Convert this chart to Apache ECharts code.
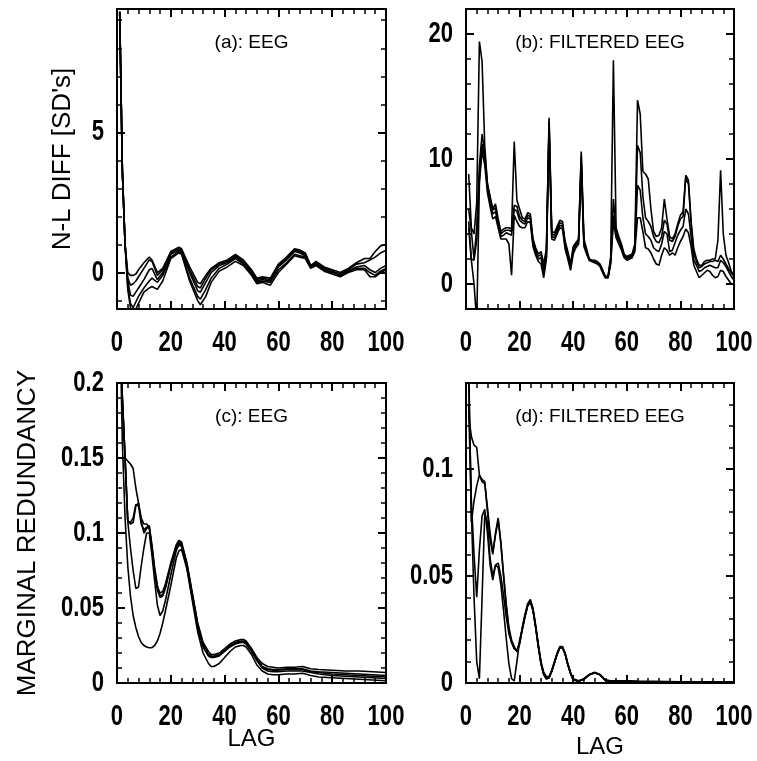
<!DOCTYPE html>
<html><head><meta charset="utf-8">
<script src="https://cdn.jsdelivr.net/npm/echarts@6/dist/echarts.min.js"></script>
<style>html,body{margin:0;padding:0;background:#fff}#c{width:757px;height:761px}</style>
</head><body><div id="c"></div>
<script>
// ---------- tick labels ----------
const xTickLabels = [0, 20, 40, 60, 80, 100];
const xMinorTicks = [4, 8, 12, 16, 24, 28, 32, 36, 44, 48, 52, 56, 64, 68, 72, 76, 84, 88, 92, 96];
const yMajorA = [0, 5];
const yMinorA = [-1, 1, 2, 3, 4, 6, 7, 8, 9];
const yMajorB = [0, 10, 20];
const yMinorB = [2, 4, 6, 8, 12, 14, 16, 18];
const yMajorC = [0, 0.05, 0.1, 0.15, 0.2];
const yMinorC = [0.01, 0.02, 0.03, 0.04, 0.06, 0.07, 0.08, 0.09, 0.11, 0.12, 0.13, 0.14, 0.16, 0.17, 0.18, 0.19];
const yMajorD = [0, 0.05, 0.1];
const yMinorD = [0.01, 0.02, 0.03, 0.04, 0.06, 0.07, 0.08, 0.09, 0.11, 0.12, 0.13];

// ---------- panel (a): EEG, N-L DIFF ----------
const xa = [1,2,3,4,5,6,7,8,10,12,13,15,17,20,23,24,27,30,31,33,35,38,41,44,47,50,52,54,57,60,63,66,68,70,72,74,77,80,83,86,89,92,94,96,98,100];
const a1 = [9.3,3.6,1.0,0.0,-0.1,-0.1,-0.05,0.1,0.35,0.55,0.45,0.0,0.15,0.75,0.9,0.85,0.2,-0.35,-0.4,-0.1,0.15,0.35,0.45,0.65,0.45,0.1,-0.2,-0.15,-0.2,0.3,0.55,0.85,0.8,0.7,0.25,0.4,0.2,0.1,0.0,0.15,0.35,0.5,0.5,0.75,0.95,1.0];
const a2 = [9.3,3.6,1.0,-0.2,-0.45,-0.4,-0.3,-0.15,0.15,0.45,0.4,-0.1,0.1,0.7,0.85,0.8,0.1,-0.5,-0.55,-0.2,0.1,0.3,0.4,0.6,0.4,0.05,-0.25,-0.2,-0.25,0.25,0.5,0.8,0.75,0.65,0.25,0.35,0.15,0.05,-0.05,0.1,0.3,0.35,0.45,0.55,0.7,0.8];
const a3 = [9.3,3.6,1.0,-0.3,-0.8,-0.85,-0.7,-0.55,-0.25,0.1,0.15,-0.25,0.0,0.65,0.8,0.75,0.0,-0.65,-0.7,-0.35,0.0,0.25,0.35,0.55,0.35,0.0,-0.3,-0.25,-0.3,0.2,0.45,0.75,0.7,0.6,0.2,0.3,0.1,0.0,-0.1,0.05,0.2,0.25,0.1,0.0,0.15,0.25];
const a4 = [9.3,3.6,1.0,-0.5,-1.1,-1.25,-1.05,-0.85,-0.55,-0.3,-0.2,-0.35,-0.1,0.55,0.75,0.7,-0.2,-0.85,-0.95,-0.6,-0.2,0.15,0.3,0.5,0.3,-0.05,-0.35,-0.3,-0.35,0.1,0.35,0.65,0.6,0.55,0.2,0.3,0.1,0.0,-0.1,0.05,0.15,0.15,0.0,-0.1,0.05,0.15];
const a5 = [9.3,3.6,1.0,-0.6,-1.25,-1.35,-1.3,-1.1,-0.7,-0.55,-0.5,-0.6,-0.3,0.5,0.7,0.65,-0.3,-1.0,-1.15,-0.85,-0.35,0.05,0.2,0.4,0.25,-0.1,-0.4,-0.35,-0.45,0.0,0.3,0.6,0.55,0.5,0.15,0.25,0.05,-0.05,-0.15,0.0,0.1,0.1,-0.15,-0.15,0.0,0.1];

// ---------- panel (b): FILTERED EEG, N-L DIFF ----------
const xb = [1,2,3,4,5,6,7,8,9,10,11,12,13,14,15,16,17,18,19,20,21,22,23,24,25,26,27,28,29,30,31,32,33,34,35,36,37,38,39,40,41,42,43,44,45,46,47,48,49,50,51,52,53,54,55,56,57,58,59,60,61,62,63,64,65,66,67,68,69,70,71,72,73,74,75,76,77,78,79,80,81,82,83,84,85,86,87,88,89,90,91,92,93,94,95,96,97,98,99,100];
const b1 = [8.8,4.5,4.0,6.5,19.4,17.8,11.0,8.0,7.0,6.0,
  6.4,5.2,4.2,4.4,4.5,4.5,4.4,11.4,6.7,6.0,
  5.3,5.2,5.7,5.6,3.6,2.9,2.4,2.6,1.6,2.8,
  13.3,4.2,4.1,4.6,5.1,5.0,3.4,2.6,1.6,3.0,
  3.3,3.6,10.6,3.6,2.8,2.0,1.9,1.9,1.8,1.6,
  1.1,0.6,0.6,2.2,17.9,4.5,3.8,3.2,2.4,2.2,
  2.3,2.4,3.2,14.7,13.6,9.0,8.8,8.4,6.0,4.2,
  3.8,3.9,4.5,6.8,5.2,3.8,3.6,4.0,4.8,5.5,
  5.8,8.7,8.3,5.0,2.8,2.0,1.5,1.5,1.8,1.9,
  1.9,2.0,2.0,3.5,9.1,4.0,2.3,1.7,1.0,0.8];
const b2 = [6.0,4.2,2.0,4.5,9.5,12.0,10.5,8.0,6.8,5.9,
  6.1,5.0,4.0,4.2,4.3,4.3,4.2,6.3,6.2,5.4,
  5.1,5.0,5.5,5.4,3.4,2.7,2.2,2.4,1.2,2.5,
  13.0,4.0,3.9,4.4,4.9,4.8,3.2,2.4,1.4,2.8,
  3.2,3.5,10.2,3.4,2.6,2.0,1.9,1.8,1.7,1.5,
  1.1,0.6,0.6,2.0,6.8,4.2,3.6,3.0,2.3,2.1,
  2.2,2.3,3.0,11.1,10.5,7.0,5.3,5.0,4.6,3.8,
  3.4,3.3,3.8,5.1,4.8,3.5,3.4,3.8,4.6,5.2,
  5.4,8.5,8.0,4.8,2.4,1.8,1.3,1.4,1.6,1.7,
  1.8,1.8,1.9,1.8,2.3,2.0,1.6,1.2,0.9,0.6];
const b3 = [5.0,2.0,1.9,3.5,8.5,11.2,10.0,7.6,6.5,5.6,
  5.8,4.8,3.8,3.9,4.1,4.0,3.9,6.0,5.8,5.1,
  4.9,4.8,5.3,5.2,3.2,2.5,2.0,2.1,0.9,2.2,
  12.6,3.8,3.7,4.2,4.7,4.6,3.0,2.2,1.3,2.6,
  3.1,3.4,9.8,3.2,2.5,1.9,1.8,1.8,1.7,1.5,
  1.0,0.5,0.5,1.8,5.5,4.0,3.4,2.9,2.2,2.0,
  2.1,2.2,2.8,7.9,7.5,5.3,4.0,3.8,3.5,2.9,
  2.7,2.6,3.2,4.2,4.0,2.6,2.7,3.3,3.9,4.3,
  4.6,6.0,5.6,3.8,1.9,1.5,1.0,1.1,1.3,1.4,
  1.5,1.4,1.3,1.3,1.9,1.7,1.4,1.0,0.6,0.3];
const b4 = [4.5,1.9,0.0,-3.0,8.0,10.7,9.5,7.3,6.2,5.2,
  5.4,4.5,3.6,3.6,3.6,3.2,0.7,5.5,5.0,4.6,
  4.5,4.5,5.0,4.9,3.0,2.3,1.8,1.6,0.5,2.0,
  12.2,3.6,3.5,4.0,4.5,4.4,2.8,2.0,1.1,2.4,
  2.9,3.2,9.5,3.0,2.4,1.9,1.8,1.7,1.6,1.4,
  0.9,0.5,0.5,1.6,5.0,3.7,3.2,2.7,2.1,1.9,
  2.0,2.1,2.6,5.3,5.3,4.2,2.9,2.8,2.5,2.0,
  1.6,1.5,2.3,2.9,2.7,2.3,2.5,2.3,2.9,3.4,
  3.8,4.4,4.1,3.0,1.5,1.0,0.5,0.7,0.9,1.1,
  1.0,0.7,0.5,0.6,1.1,1.0,0.6,0.3,0.0,0.0];

// ---------- panel (c): EEG, MARGINAL REDUNDANCY ----------
const xc = [1,2,3,4,5,6,7,8,9,10,11,12,13,14,15,16,17,18,20,22,23,24,26,28,30,32,34,35,36,38,40,42,44,46,47,48,50,52,54,56,58,60,63,66,69,72,75,80,85,90,95,100];
const c1 = [0.15,0.15,0.15,0.148,0.146,0.143,0.13,0.12,0.11,0.106,0.106,0.104,0.09,0.075,0.064,0.06,0.061,0.066,
  0.08,0.092,0.095,0.094,0.08,0.06,0.04,0.027,0.021,0.019,0.019,0.02,0.023,0.026,0.028,0.029,0.029,0.028,0.023,0.017,0.013,0.011,0.0105,0.010,0.0105,0.0105,0.011,0.0095,0.009,0.0085,0.008,0.008,0.0075,0.007];
const c2 = [0.23,0.19,0.15,0.108,0.106,0.107,0.118,0.12,0.108,0.1,0.103,0.105,0.092,0.077,0.065,0.058,0.059,0.064,
  0.079,0.091,0.094,0.093,0.079,0.059,0.039,0.026,0.019,0.018,0.018,0.019,0.022,0.025,0.027,0.028,0.028,0.027,0.022,0.016,0.011,0.0095,0.009,0.009,0.0095,0.0095,0.0095,0.008,0.0075,0.007,0.0065,0.006,0.0055,0.005];
const c3 = [0.23,0.19,0.15,0.108,0.09,0.075,0.063,0.064,0.078,0.09,0.1,0.1,0.085,0.068,0.052,0.045,0.048,0.055,
  0.072,0.088,0.092,0.091,0.077,0.057,0.037,0.024,0.018,0.017,0.017,0.018,0.021,0.024,0.026,0.027,0.027,0.026,0.021,0.015,0.010,0.008,0.0075,0.0075,0.008,0.008,0.008,0.007,0.006,0.005,0.0045,0.004,0.0035,0.003];
const c4 = [0.25,0.16,0.11,0.078,0.058,0.045,0.037,0.031,0.027,0.025,0.024,0.0235,0.0236,0.025,0.028,0.033,0.04,0.048,
  0.065,0.083,0.088,0.089,0.076,0.055,0.034,0.02,0.013,0.011,0.011,0.013,0.017,0.021,0.024,0.025,0.025,0.024,0.019,0.012,0.008,0.006,0.0055,0.0055,0.006,0.006,0.0065,0.005,0.004,0.0035,0.003,0.0025,0.002,0.0015];
const c5 = [0.23,0.19,0.15,0.108,0.107,0.11,0.119,0.118,0.106,0.102,0.104,0.103,0.09,0.074,0.062,0.057,0.058,0.063,
  0.078,0.09,0.093,0.092,0.078,0.058,0.038,0.025,0.0185,0.0175,0.0175,0.0185,0.0215,0.0245,0.0265,0.0275,0.0275,0.0265,0.0215,0.0155,0.0105,0.009,0.0085,0.0085,0.009,0.009,0.009,0.0075,0.007,0.006,0.0055,0.005,0.0045,0.004];

// ---------- panel (d): FILTERED EEG, MARGINAL REDUNDANCY ----------
const xd = [1,2,3,4,5,6,7,8,9,10,11,12,13,14,15,16,17,18,19,20,21,22,23,24,25,26,27,28,29,30,31,32,33,34,35,36,37,38,39,40,42,44,46,48,50,52,54,56,60,65,70,80,90,100];
const d1 = [0.125,0.115,0.111,0.110,0.097,0.094,0.093,0.082,0.070,0.061,
  0.069,0.076,0.065,0.05,0.036,0.025,0.019,0.016,0.015,0.019,
  0.026,0.032,0.037,0.039,0.035,0.027,0.018,0.010,0.005,0.003,
  0.003,0.006,0.010,0.014,0.017,0.017,0.014,0.009,0.005,0.002,
  0.001,0.002,0.004,0.005,0.004,0.0015,0.001,0.001,0.001,0.0008,0.0008,0.0006,0.0005,0.0004];
const d2 = [0.15,0.075,0.085,0.092,0.097,0.095,0.094,0.080,0.067,0.060,
  0.070,0.077,0.066,0.051,0.037,0.026,0.020,0.017,0.0145,0.018,
  0.025,0.031,0.036,0.038,0.034,0.026,0.017,0.009,0.004,0.002,
  0.0025,0.0055,0.0095,0.0135,0.0165,0.0165,0.0135,0.0085,0.0045,0.0015,
  0.0008,0.0018,0.0038,0.0048,0.0038,0.0012,0.0008,0.0008,0.0008,0.0006,0.0006,0.0005,0.0004,0.0003];
const d3 = [0.14,0.085,0.06,0.04,0.062,0.078,0.081,0.07,0.055,0.048,
  0.055,0.056,0.05,0.041,0.031,0.023,0.019,0.016,0.015,0.019,
  0.025,0.031,0.036,0.038,0.034,0.026,0.017,0.009,0.004,0.002,
  0.0025,0.0055,0.0095,0.0135,0.0165,0.0165,0.0135,0.0085,0.0045,0.0015,
  0.0008,0.0018,0.0038,0.0048,0.0038,0.0012,0.0008,0.0008,0.0008,0.0006,0.0006,0.0005,0.0004,0.0003];
const d4 = [0.13,0.08,0.04,0.01,0.002,0.04,0.079,0.075,0.058,0.05,
  0.055,0.054,0.046,0.034,0.021,0.009,0.002,0.001,0.01,0.02,
  0.025,0.031,0.036,0.038,0.034,0.026,0.017,0.009,0.004,0.002,
  0.0025,0.0055,0.0095,0.0135,0.0165,0.0165,0.0135,0.0085,0.0045,0.0015,
  0.0008,0.0018,0.0038,0.0048,0.0038,0.0012,0.0008,0.0008,0.0008,0.0006,0.0006,0.0005,0.0004,0.0003];

const panelTitles = ['(a): EEG', '(b): FILTERED EEG', '(c): EEG', '(d): FILTERED EEG'];
const yAxisTitleTop = "N-L DIFF [SD's]";
const yAxisTitleBottom = 'MARGINAL REDUNDANCY';
const xAxisTitle = 'LAG';

// ---------- layout / styles ----------
const TEXT_FONT = "'Liberation Sans',Arial,Helvetica,sans-serif";
const TICK_FONT = "bold 29px 'Liberation Sans',Arial,Helvetica,sans-serif";
const TICK_SCALE_X = 0.76;   // condensed tick-label face
const panels = [
  {grid:{left:117, top:9, width:269, height:300}, ymin:-1.3, ymax:9.4, maj:yMajorA, min:yMinorA,
   yName:yAxisTitleTop, yGap:41, xName:'', xGap:0, x:xa, ys:[a1,a2,a3,a4,a5]},
  {grid:{left:466, top:9, width:268, height:300}, ymin:-2, ymax:22, maj:yMajorB, min:yMinorB,
   yName:'', yGap:0, xName:'', xGap:0, x:xb, ys:[b1,b2,b3,b4]},
  {grid:{left:117, top:383, width:269, height:300}, ymin:0, ymax:0.2, maj:yMajorC, min:yMinorC,
   yName:yAxisTitleBottom, yGap:76, xName:xAxisTitle, xGap:44, x:xc, ys:[c1,c2,c3,c4,c5]},
  {grid:{left:466, top:383, width:268, height:300}, ymin:0, ymax:0.14, maj:yMajorD, min:yMinorD,
   yName:'', yGap:0, xName:xAxisTitle, xGap:52, x:xd, ys:[d1,d2,d3,d4]}
];

const grids = [], xAxes = [], yAxes = [], series = [], graphics = [];
const yNameStyle = {fontSize:26, fontFamily:TEXT_FONT, color:'#000'};
const xNameStyle = {fontSize:24, fontFamily:TEXT_FONT, color:'#000'};
const noLine = {show:false, onZero:false};

panels.forEach((p, i) => {
  grids.push(Object.assign({show:true, borderColor:'#000', borderWidth:2, backgroundColor:'transparent',
    containLabel:false, outerBoundsMode:'none'}, p.grid));
  const xBase = {gridIndex:i, type:'value', min:0, max:100,
    axisLine:noLine, splitLine:{show:false}, minorSplitLine:{show:false}, axisLabel:{show:false}};
  const xMajTick = {show:true, inside:true, length:8, customValues:xTickLabels, lineStyle:{color:'#000', width:2}};
  const xMinTick = {show:true, inside:true, length:5, customValues:xMinorTicks, lineStyle:{color:'#000', width:1.5}};
  xAxes.push(Object.assign({}, xBase, {position:'bottom', axisTick:xMajTick,
    name:p.xName, nameLocation:'middle', nameGap:p.xGap, nameTextStyle:xNameStyle}));
  xAxes.push(Object.assign({}, xBase, {position:'bottom', axisTick:xMinTick}));
  xAxes.push(Object.assign({}, xBase, {position:'top', axisTick:xMajTick}));
  xAxes.push(Object.assign({}, xBase, {position:'top', axisTick:xMinTick}));

  const yBase = {gridIndex:i, type:'value', min:p.ymin, max:p.ymax,
    axisLine:noLine, splitLine:{show:false}, minorSplitLine:{show:false}, axisLabel:{show:false}};
  const yMajTick = {show:true, inside:true, length:8, customValues:p.maj, lineStyle:{color:'#000', width:2}};
  const yMinTick = {show:true, inside:true, length:5, customValues:p.min, lineStyle:{color:'#000', width:1.5}};
  yAxes.push(Object.assign({}, yBase, {position:'left', axisTick:yMajTick,
    name:p.yName, nameLocation:'middle', nameGap:p.yGap, nameRotate:90, nameTextStyle:yNameStyle}));
  yAxes.push(Object.assign({}, yBase, {position:'left', axisTick:yMinTick}));
  yAxes.push(Object.assign({}, yBase, {position:'right', axisTick:yMajTick}));
  yAxes.push(Object.assign({}, yBase, {position:'right', axisTick:yMinTick}));

  p.ys.forEach(ys => {
    series.push({type:'line', xAxisIndex:i*4, yAxisIndex:i*4, clip:true, symbol:'none', showSymbol:false,
      smooth:false, animation:false, silent:true,
      lineStyle:{color:'#000', width:1.6}, data:p.x.map((v, k) => [v, ys[k]])});
  });

  graphics.push({type:'text', x:p.grid.left + p.grid.width / 2, y:p.grid.top + 24,
    style:{text:panelTitles[i], fontSize:19, fontFamily:TEXT_FONT, fill:'#000',
      align:'center', textAlign:'center', verticalAlign:'top', textVerticalAlign:'top'}});
});

const chart = echarts.init(document.getElementById('c'), null, {renderer:'canvas'});
chart.setOption({
  animation:false,
  backgroundColor:'#fff',
  grid:grids, xAxis:xAxes, yAxis:yAxes, series:series
});

// tick labels: positions come from the library's own axis scales (convertToPixel)
panels.forEach((p, i) => {
  const yBottom = chart.convertToPixel({yAxisIndex:i*4}, p.ymin);
  xTickLabels.forEach(v => {
    const px = chart.convertToPixel({xAxisIndex:i*4}, v);
    graphics.push({type:'text', x:px, y:yBottom + 34, scaleX:TICK_SCALE_X,
      style:{text:String(v), x:0, y:0, font:TICK_FONT, fill:'#000',
        align:'center', verticalAlign:'middle', textAlign:'center', textVerticalAlign:'middle'}});
  });
  const xLeft = chart.convertToPixel({xAxisIndex:i*4}, 0);
  p.maj.forEach(v => {
    const py = chart.convertToPixel({yAxisIndex:i*4}, v);
    graphics.push({type:'text', x:xLeft - 13, y:py, scaleX:TICK_SCALE_X,
      style:{text:String(v), x:0, y:0, font:TICK_FONT, fill:'#000',
        align:'right', verticalAlign:'middle', textAlign:'right', textVerticalAlign:'middle'}});
  });
});
chart.setOption({graphic:graphics});
</script></body></html>
